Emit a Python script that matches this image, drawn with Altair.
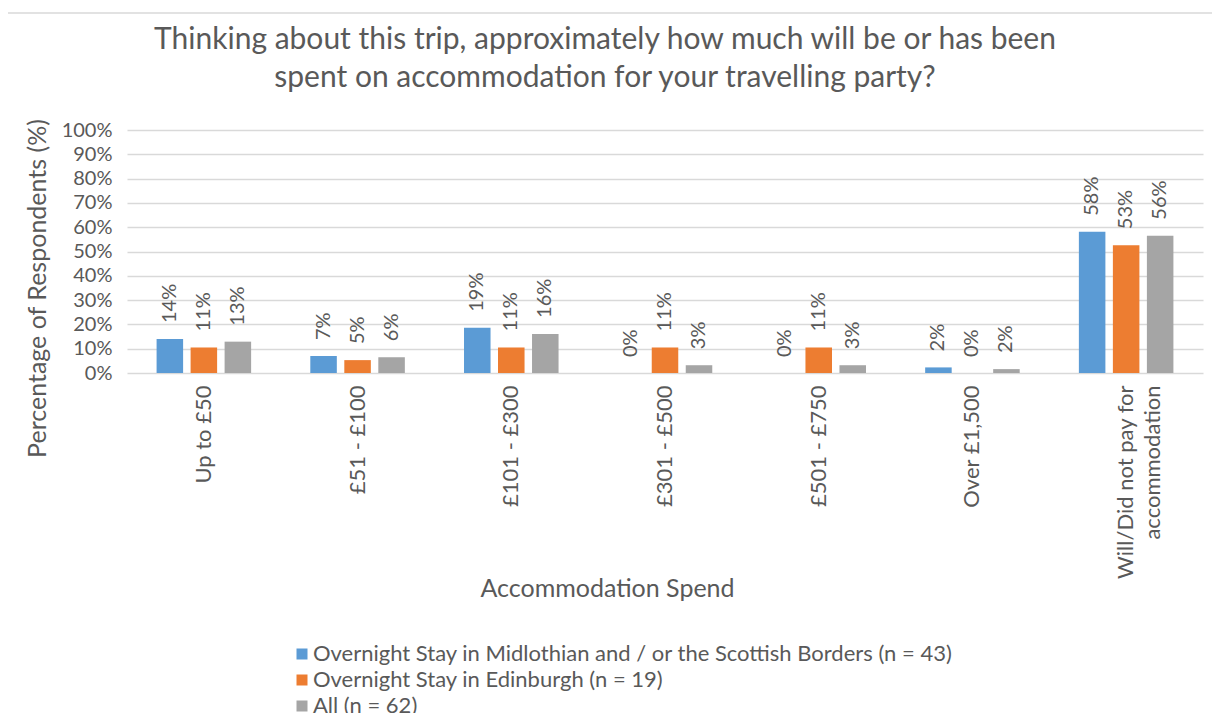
import altair as alt
import pandas as pd

categories = ["Up to £50", "£51 - £100", "£101 - £300", "£301 - £500",
              "£501 - £750", "Over £1,500", "Will/Did not pay for accommodation"]
series = ["Overnight Stay in Midlothian and / or the Scottish Borders (n = 43)",
          "Overnight Stay in Edinburgh (n = 19)",
          "All (n = 62)"]
midlothian = [14.0, 7.0, 18.6, 0.0, 0.0, 2.3, 58.1]
edinburgh = [10.5, 5.3, 10.5, 10.5, 10.5, 0.0, 52.6]
all_resp = [12.9, 6.5, 16.1, 3.2, 3.2, 1.6, 56.5]
midlothian_labels = ["14%", "7%", "19%", "0%", "0%", "2%", "58%"]
edinburgh_labels = ["11%", "5%", "11%", "11%", "11%", "0%", "53%"]
all_labels = ["13%", "6%", "16%", "3%", "3%", "2%", "56%"]
colors = ["#5b9bd5", "#ed7d31", "#a5a5a5"]
y_ticks = [0, 10, 20, 30, 40, 50, 60, 70, 80, 90, 100]

rows = []
for s, vals, labs in zip(series, [midlothian, edinburgh, all_resp],
                         [midlothian_labels, edinburgh_labels, all_labels]):
    for c, v, l in zip(categories, vals, labs):
        rows.append({"Category": c, "Series": s, "Value": v, "Label": l})
df = pd.DataFrame(rows)

FONT = "Lato"
TXT = "#595959"
W, H = 1076, 243

x_enc = alt.X("Category:N", sort=categories,
              scale=alt.Scale(paddingInner=0, paddingOuter=0),
              axis=alt.Axis(title="Accommodation Spend", labelAngle=270,
                            labelAlign="right", labelBaseline="middle",
                            labelPadding=12, labelFontSize=22, labelLineHeight=27,
                            labelLimit=400,
                            labelExpr="datum.value == 'Will/Did not pay for accommodation' ? ['Will/Did not pay for', 'accommodation'] : datum.value",
                            domain=False, ticks=False, grid=False, labelOverlap=False,
                            titleFontSize=25, titleX=480, titleY=215,
                            titleBaseline="middle"))
xoff_enc = alt.XOffset("Series:N", sort=series,
                       scale=alt.Scale(paddingInner=0.22, paddingOuter=0.87))
y_enc = alt.Y("Value:Q", scale=alt.Scale(domain=[0, 100], nice=False),
              axis=alt.Axis(title="Percentage of Respondents (%)", values=y_ticks,
                            tickCount=11,
                            labelExpr="datum.value + '%'", labelFontSize=20,
                            labelPadding=15, domain=False, ticks=False,
                            labelOverlap=False,
                            gridColor="#d9d9d9", gridWidth=1.6,
                            titleFontSize=25, titleX=-90, titleY=158,
                            titleBaseline="middle"))

base = alt.Chart(df)

bars = base.mark_bar().encode(
    x=x_enc, xOffset=xoff_enc, y=y_enc,
    color=alt.Color("Series:N", sort=series,
                    scale=alt.Scale(domain=series, range=colors),
                    legend=alt.Legend(title=None, orient="none", legendX=164, legendY=513,
                                      direction="vertical", symbolType="square",
                                      symbolSize=121, symbolStrokeWidth=0,
                                      labelFontSize=22, labelColor=TXT, labelFont=FONT,
                                      rowPadding=4, labelOffset=0, labelLimit=900)),
)

labels = base.mark_text(angle=270, align="left", baseline="middle", dx=16,
                        fontSize=20, font=FONT, color=TXT).encode(
    x=x_enc, xOffset=xoff_enc, y=y_enc, text="Label:N")

frame = alt.Chart(alt.Data(values=[{"k": 1}])).mark_rect(
    fill="transparent", stroke="#d9d9d9", strokeWidth=1.5).encode(
    x=alt.value(-120), x2=alt.value(1090), y=alt.value(-117), y2=alt.value(620))

chart = alt.layer(frame, bars, labels).properties(
    width=W, height=H,
    background="white",
    padding={"left": 119, "top": 122, "right": 9, "bottom": 340},
    autosize=alt.AutoSizeParams(type="none"),
    title=alt.TitleParams(
        text=["Thinking about this trip, approximately how much will be or has been",
              "spent on accommodation for your travelling party?"],
        fontSize=30, font=FONT, color=TXT, fontWeight="normal", lineHeight=38,
        anchor="middle", frame="group", dx=-60, offset=-81),
).configure_axis(
    labelFont=FONT, titleFont=FONT, labelColor=TXT, titleColor=TXT,
    titleFontWeight="normal",
).configure_view(stroke=None)

chart.save("out.html", embed_options={"renderer": "svg", "actions": False})
